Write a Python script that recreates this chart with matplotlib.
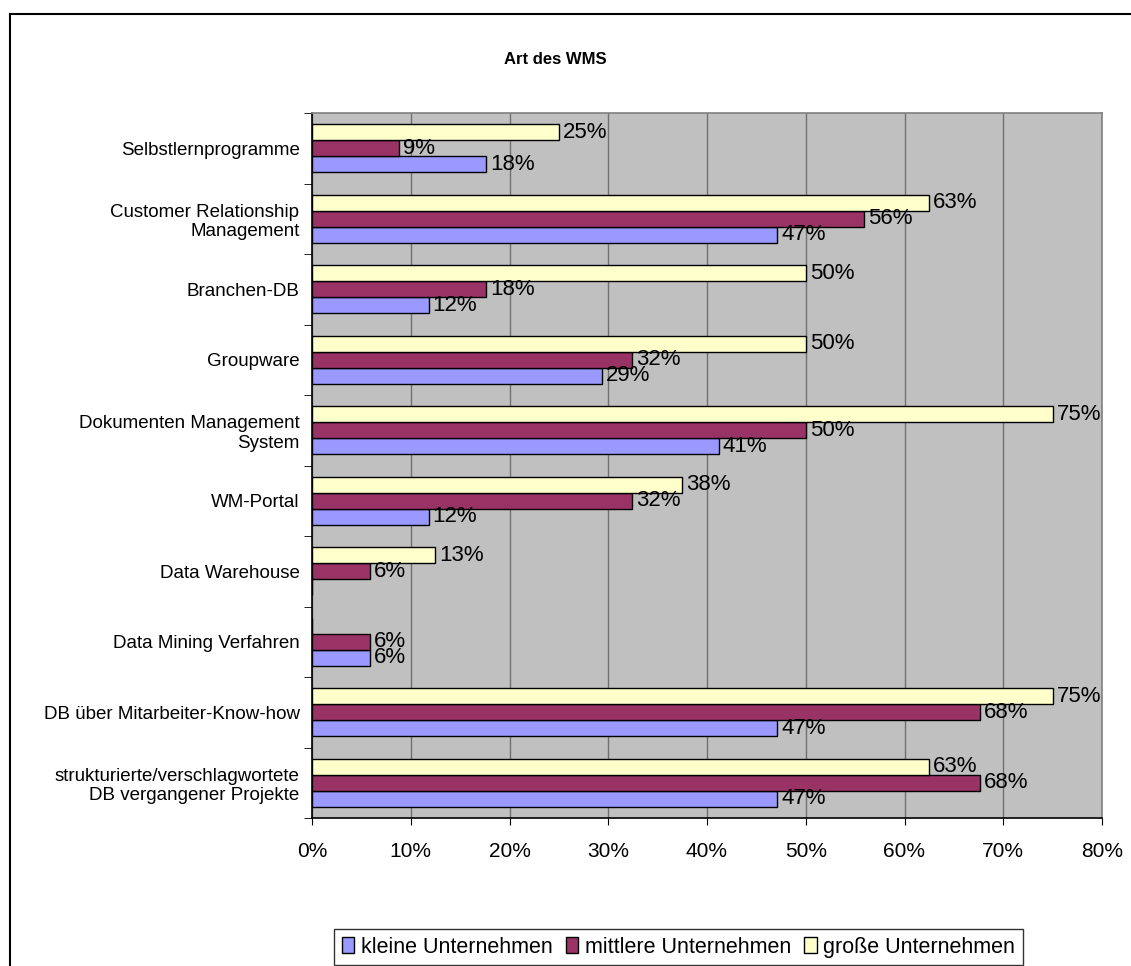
import matplotlib
matplotlib.use("Agg")
from matplotlib import pyplot as plt
from matplotlib.lines import Line2D
import numpy as np

plt.rcParams['font.family'] = ['Liberation Sans', 'DejaVu Sans']

# categories top to bottom
categories = ['Selbstlernprogramme',
              'Customer Relationship\nManagement',
              'Branchen-DB',
              'Groupware',
              'Dokumenten Management\nSystem',
              'WM-Portal',
              'Data Warehouse',
              'Data Mining Verfahren',
              'DB über Mitarbeiter-Know-how',
              'strukturierte/verschlagwortete\nDB vergangener Projekte']

# percent values per company size
kleine = [17.6, 47.1, 11.8, 29.4, 41.2, 11.8, 0.0, 5.9, 47.1, 47.1]
mittlere = [8.8, 55.9, 17.6, 32.4, 50.0, 32.4, 5.9, 5.9, 67.6, 67.6]
grosse = [25.0, 62.5, 50.0, 50.0, 75.0, 37.5, 12.5, 0.0, 75.0, 62.5]

series_names = ['kleine Unternehmen', 'mittlere Unternehmen', 'große Unternehmen']
colors = ['#9999FF', '#993366', '#FFFFCC']

W, H = 1131, 966
fig = plt.figure(figsize=(W / 100, H / 100), dpi=100)
ax = fig.add_axes([312 / W, (H - 818) / H, 790 / W, 705 / H])
ax.set_facecolor('#C0C0C0')

y = np.arange(len(categories))
h = 0.228
# offsets: big on top, small at bottom (y axis inverted)
offsets = [h, 0, -h]
all_series = [kleine, mittlere, grosse]
for vals, off, col, name in zip(all_series, offsets, colors, series_names):
    ax.barh(y + off, vals, height=h, color=col, edgecolor='black', linewidth=1.0,
            label=name, zorder=3)
    for yi, v in zip(y, vals):
        if v > 0:
            ax.text(v + 0.4, yi + off, f'{int(v + 0.5)}%', va='center', ha='left',
                    fontsize=16, zorder=4)

ax.set_xlim(0, 80)
ax.set_ylim(len(categories) - 0.5, -0.5)
xt = np.arange(0, 81, 10)
ax.set_xticks(xt)
ax.set_xticklabels([f'{v}%' for v in xt], fontsize=15)
ax.tick_params(axis='x', direction='out', length=5, pad=12, color='black')
ax.xaxis.grid(True, color='#707070', linewidth=1.0, zorder=1)

ax.set_yticks(y)
ax.set_yticklabels(categories, fontsize=13.5)
ax.tick_params(axis='y', length=0, pad=9)
ax.set_yticks(np.arange(-0.5, len(categories), 1), minor=True)
ax.tick_params(axis='y', which='minor', direction='out', length=6, color='black')

ax.spines['left'].set_color('black')
ax.spines['bottom'].set_color('black')
ax.spines['top'].set_color('#808080')
ax.spines['right'].set_color('#808080')
for s in ax.spines.values():
    s.set_linewidth(1.2)

fig.text(555 / W, 1 - 60 / H, 'Art des WMS', ha='center', va='center',
         fontsize=12, fontweight='bold')

handles, labels = ax.get_legend_handles_labels()
leg = fig.legend(handles, labels, loc='upper left',
                 bbox_to_anchor=(334 / W, 1 - 929 / H), ncol=3, fontsize=15.5,
                 frameon=True, fancybox=False, handlelength=0.6, handleheight=0.8,
                 handletextpad=0.3, columnspacing=0.6, borderpad=0.35,
                 borderaxespad=0)
leg.get_frame().set_edgecolor('black')
leg.get_frame().set_linewidth(1.0)

# outer chart border (top and left visible)
fig.add_artist(Line2D([10 / W, 1.0], [1 - 14 / H, 1 - 14 / H], color='black', linewidth=1.5))
fig.add_artist(Line2D([10 / W, 10 / W], [0, 1 - 14 / H], color='black', linewidth=1.5))

fig.savefig('out.png', dpi=100)
